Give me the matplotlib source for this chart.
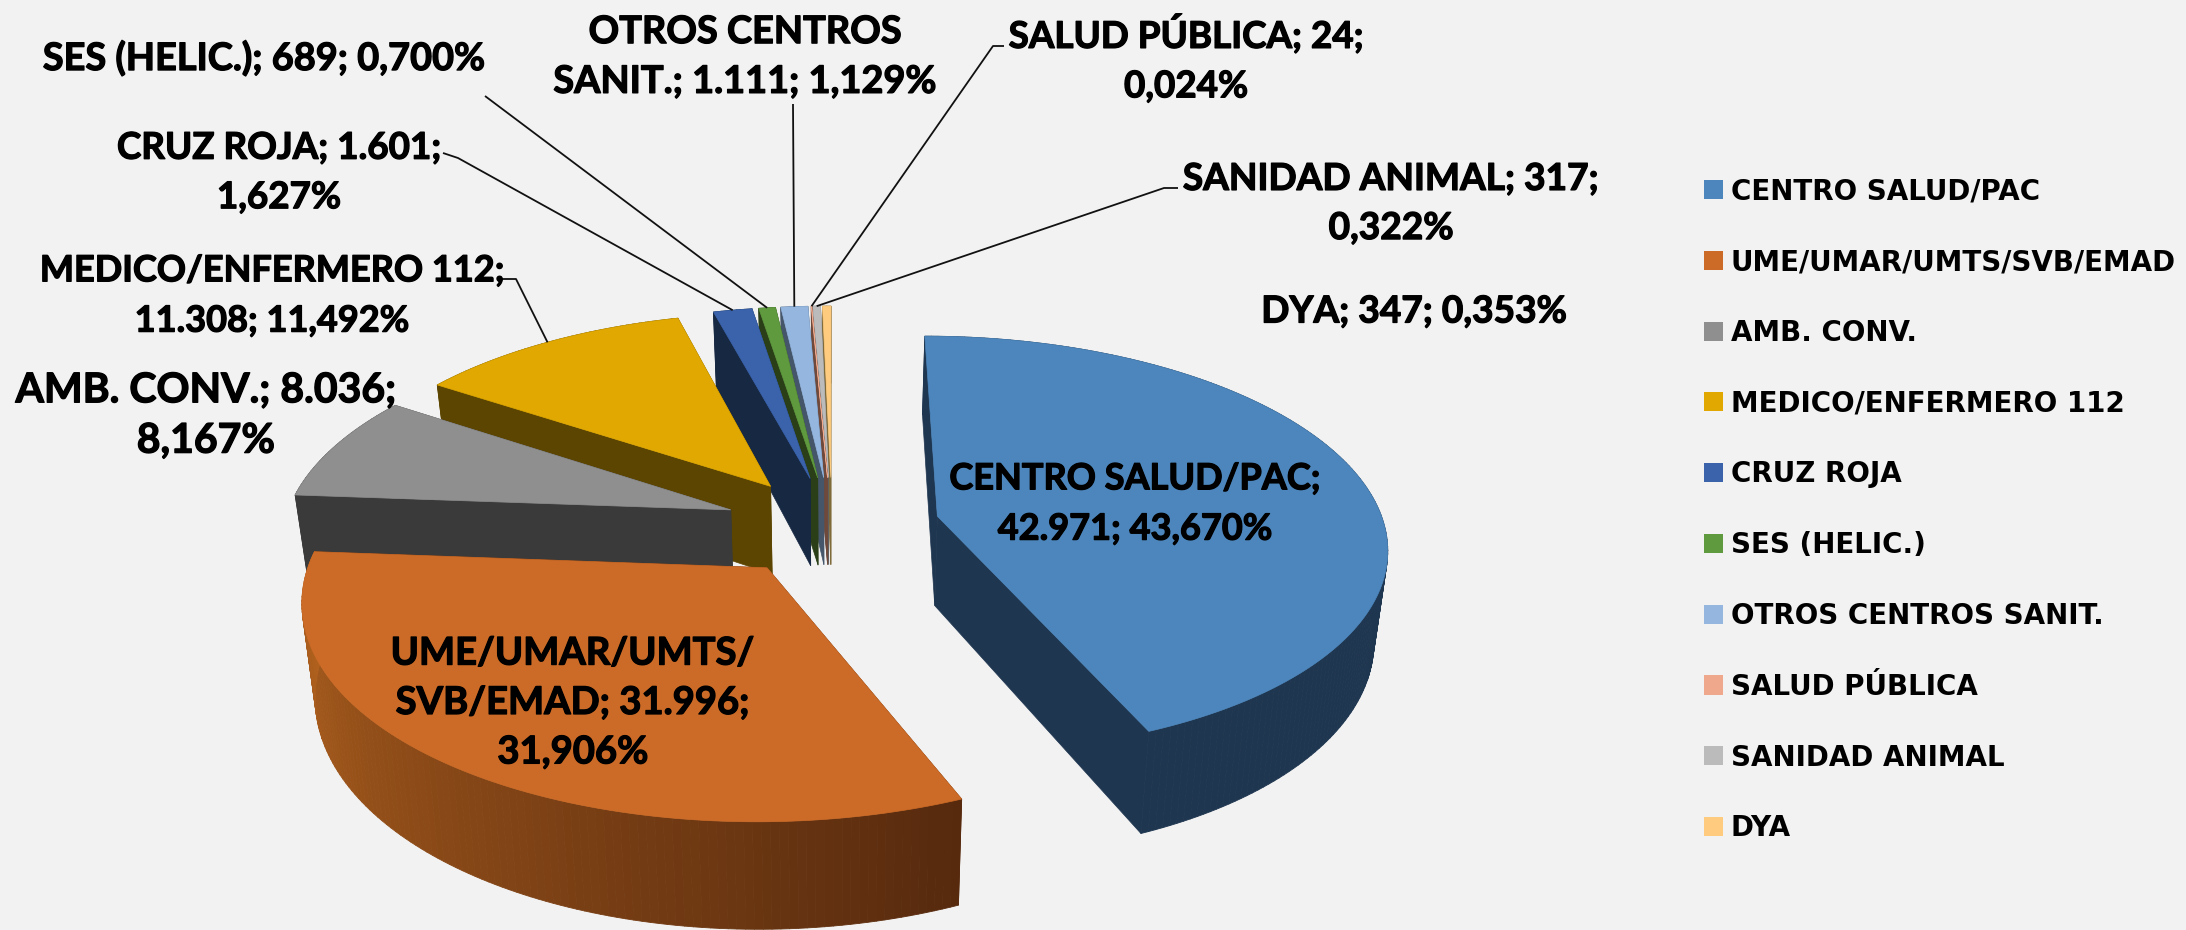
import numpy as np
from matplotlib import pyplot as plt
from matplotlib import patheffects as pe
from matplotlib.collections import PolyCollection
from matplotlib.colors import to_rgb
from matplotlib.patches import Patch, Polygon

# data
names = ['CENTRO SALUD/PAC', 'UME/UMAR/UMTS/SVB/EMAD', 'AMB. CONV.', 'MEDICO/ENFERMERO 112', 'CRUZ ROJA',
         'SES (HELIC.)', 'OTROS CENTROS SANIT.', 'SALUD PÚBLICA', 'SANIDAD ANIMAL', 'DYA']
values = [42971, 31996, 8036, 11308, 1601, 689, 1111, 24, 317, 347]
labels = ['CENTRO SALUD/PAC;\n42.971; 43,670%',
          'UME/UMAR/UMTS/\nSVB/EMAD; 31.996;\n31,906%',
          'AMB. CONV.; 8.036;\n8,167%',
          'MEDICO/ENFERMERO 112;\n11.308; 11,492%',
          'CRUZ ROJA; 1.601;\n1,627%',
          'SES (HELIC.); 689; 0,700%',
          'OTROS CENTROS\nSANIT.; 1.111; 1,129%',
          'SALUD PÚBLICA; 24;\n0,024%',
          'SANIDAD ANIMAL; 317;\n0,322%',
          'DYA; 347; 0,353%']

top_colors = ['#4C86BC', '#CC6B27', '#8F8F8F', '#E0A800', '#3A63AC',
              '#5F9A3F', '#94B6DF', '#F0A88C', '#BBBBBB', '#FFCC7F']
wall_colors = ['#1F3650', '#572A0E', '#3A3A3A', '#5C4500', '#172842',
               '#2A3F17', '#45566B', '#6F4A3C', '#5F5F5F', '#7F6A3A']
rim_light = {1: '#B5641F'}

# label centres, sizes and leader start points, in pixels
label_xy = [(1135, 504), (573, 703), (206, 416), (272, 296), (279, 173),
            (264, 58), (745, 57), (1186, 59), (1391, 204), (1414, 312)]
label_sizes = [26, 27.5, 29.5, 26, 26.5, 27.3, 27.3, 26.5, 26.7, 26.7]
leaders = {3: [(502, 279), (516, 279)],
           4: [(443, 153), (458, 158)],
           5: [(485, 96)],
           6: [(793, 104)],
           7: [(1004, 46), (993, 46)],
           8: [(1178, 188), (1164, 188)]}

# pie geometry
cx, cy = 832, 526
rx, ry = 447, 207
persp = 0.136
explode = 0.242
depth = 90
shrink = 0.975

def project(X, Y, bottom=False):
    f = 1 / (1 + persp * Y)
    sx = cx + rx * X * f
    sy = cy - ry * Y * f
    if bottom:
        sx = cx + (sx - cx) * shrink
        sy = sy + depth * f
    return sx, sy

angles = np.concatenate([[0], np.cumsum(values)]) / np.sum(values) * 2 * np.pi

fig = plt.figure(figsize=(21.86, 9.30), dpi=100, facecolor='#F2F2F2')
ax = fig.add_axes([0, 0, 1, 1])
ax.set_xlim(0, 2186)
ax.set_ylim(930, 0)
ax.axis('off')

# back slices first
for i in range(len(values) - 1, -1, -1):
    a0, a1 = angles[i], angles[i + 1]
    mid = (a0 + a1) / 2
    ex, ey = explode * np.sin(mid), explode * np.cos(mid)
    th = np.linspace(a0, a1, max(3, int((a1 - a0) * 60)))
    X = ex + np.sin(th)
    Y = ey + np.cos(th)

    tx, ty = project(X, Y)
    bx, by = project(X, Y, bottom=True)
    ax_t = project(ex, ey)
    ax_b = project(ex, ey, bottom=True)

    # radial faces
    for k in (0, -1):
        face = [ax_t, (tx[k], ty[k]), (bx[k], by[k]), ax_b]
        ax.add_patch(Polygon(face, closed=True, facecolor=wall_colors[i], edgecolor=wall_colors[i], lw=0.5))

    # outer rim, one quad per step
    quads = []
    cols = []
    dark = np.array(to_rgb(wall_colors[i]))
    light = np.array(to_rgb(rim_light.get(i, wall_colors[i])))
    for j in range(len(th) - 1):
        quads.append([(tx[j], ty[j]), (tx[j + 1], ty[j + 1]), (bx[j + 1], by[j + 1]), (bx[j], by[j])])
        t = j / max(1, len(th) - 2)
        cols.append(dark + (light - dark) * t)
    ax.add_collection(PolyCollection(quads, facecolors=cols, edgecolors=cols, linewidths=0.6))

    # top face
    top = [ax_t] + list(zip(tx, ty))
    ax.add_patch(Polygon(top, closed=True, facecolor=top_colors[i], edgecolor=top_colors[i], lw=0.5))

# leader lines end on the outer edge of their slice
for i, pts in leaders.items():
    mid = (angles[i] + angles[i + 1]) / 2
    end = project((explode + 1) * np.sin(mid), (explode + 1) * np.cos(mid))
    line = pts + [end]
    ax.plot([p[0] for p in line], [p[1] for p in line], color='#111111', lw=1.3, solid_capstyle='butt')

for txt, (lx, ly), size in zip(labels, label_xy, label_sizes):
    ax.text(lx, ly, txt, ha='center', va='center', family='Lato', fontweight='bold',
            fontsize=size, linespacing=1.64 * 26 / size, color='black',
            path_effects=[pe.withStroke(linewidth=0.9, foreground='black')])

handles = [Patch(facecolor=c, edgecolor='none') for c in top_colors]
leg = ax.legend(handles, names, loc='upper left', bbox_to_anchor=(1696 / 2186, 1 - 169 / 930),
                frameon=False, prop={'family': 'DejaVu Sans', 'weight': 'bold', 'size': 20},
                labelspacing=1.54, handlelength=0.68, handleheight=0.68, handletextpad=0.27,
                borderpad=0.3, borderaxespad=0)

plt.savefig('out.png', dpi=100, facecolor=fig.get_facecolor())
